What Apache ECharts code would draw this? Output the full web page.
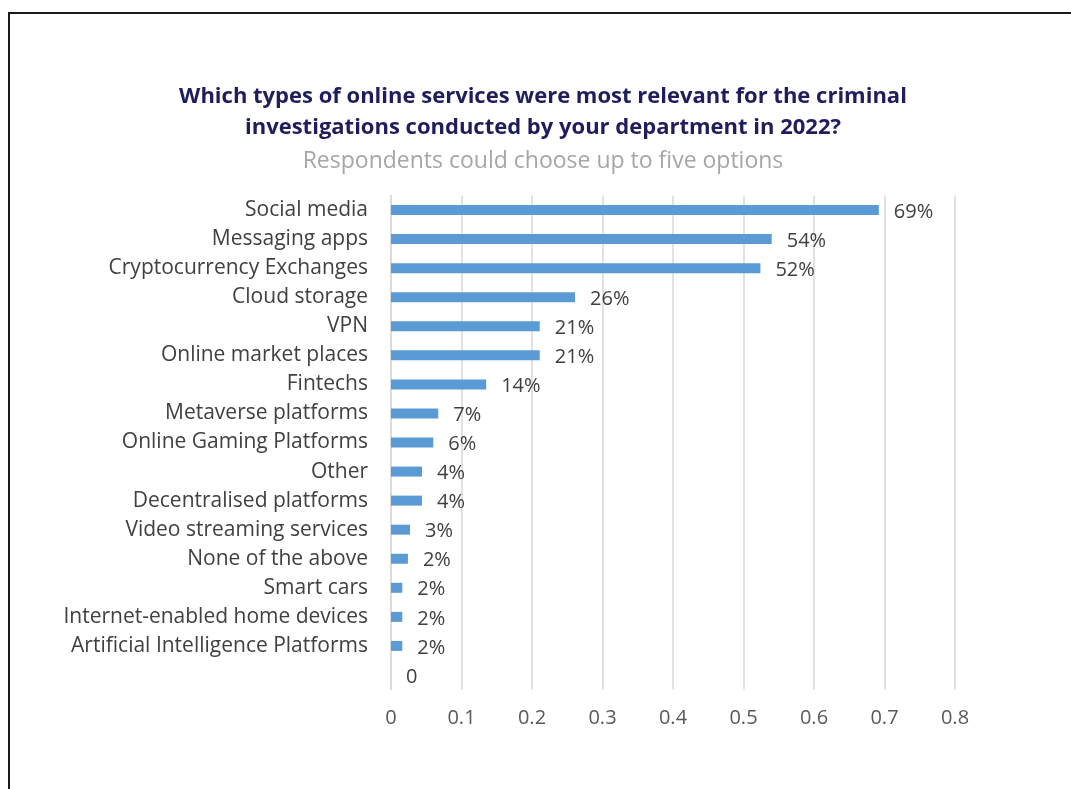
<!DOCTYPE html>
<html>
<head>
<meta charset="utf-8">
<script src="https://cdn.jsdelivr.net/npm/echarts@6/dist/echarts.min.js"></script>
<style>
  html, body { margin: 0; padding: 0; background: #ffffff; }
  #chart { width: 1071px; height: 789px; }
</style>
</head>
<body>
<div id="chart"></div>
<script>
// Survey answers, top to bottom; the blank last row is the empty zero entry
const categories = [
  'Social media', 'Messaging apps', 'Cryptocurrency Exchanges', 'Cloud storage',
  'VPN', 'Online market places', 'Fintechs', 'Metaverse platforms',
  'Online Gaming Platforms', 'Other', 'Decentralised platforms',
  'Video streaming services', 'None of the above', 'Smart cars',
  'Internet-enabled home devices', 'Artificial Intelligence Platforms', ''
];
const shares = [
  0.692, 0.540, 0.524, 0.261,
  0.211, 0.211, 0.135, 0.067,
  0.060, 0.044, 0.044,
  0.027, 0.024, 0.016,
  0.016, 0.016, 0
];
const xTicks = [0, 0.1, 0.2, 0.3, 0.4, 0.5, 0.6, 0.7, 0.8];

const titleLines = [
  'Which types of online services were most relevant for the criminal',
  'investigations conducted by your department in 2022?'
];
const subtitle = 'Respondents could choose up to five options';

const FONT = '"Open Sans", Lato, sans-serif';

const chart = echarts.init(document.getElementById('chart'));
chart.setOption({
  backgroundColor: '#ffffff',
  animation: false,
  graphic: [
    { type: 'line', shape: { x1: 8, y1: 13, x2: 1071, y2: 13 }, style: { stroke: '#1a1a1a', lineWidth: 2 } },
    { type: 'line', shape: { x1: 9, y1: 12, x2: 9, y2: 789 }, style: { stroke: '#1a1a1a', lineWidth: 2 } },
    { type: 'text', x: 543, y: 97, style: { text: titleLines[0], textAlign: 'center', textVerticalAlign: 'middle', fill: '#1f1d5c', font: 'bold 22px ' + FONT } },
    { type: 'text', x: 543, y: 128, style: { text: titleLines[1], textAlign: 'center', textVerticalAlign: 'middle', fill: '#1f1d5c', font: 'bold 22px ' + FONT } },
    { type: 'text', x: 543, y: 161, style: { text: subtitle, textAlign: 'center', textVerticalAlign: 'middle', fill: '#a6a6a6', font: '23px ' + FONT } }
  ],
  grid: { left: 391, right: 116, top: 195.5, bottom: 99.5, containLabel: false },
  xAxis: {
    type: 'value',
    min: xTicks[0],
    max: xTicks[xTicks.length - 1],
    interval: 0.1,
    axisLine: { show: false },
    axisTick: { show: false },
    splitLine: { show: true, lineStyle: { color: '#d9d9d9', width: 1.5 } },
    axisLabel: {
      margin: 19,
      color: '#595959',
      fontFamily: FONT,
      fontSize: 20,
      formatter: v => String(Math.round(v * 10) / 10)
    }
  },
  yAxis: {
    type: 'category',
    inverse: true,
    data: categories,
    axisLine: { show: true, lineStyle: { color: '#d9d9d9', width: 1.5 } },
    axisTick: { show: false },
    axisLabel: { margin: 23, color: '#404040', fontFamily: FONT, fontSize: 21, padding: [3, 0, 0, 0] }
  },
  series: [{
    type: 'bar',
    data: shares,
    barWidth: 10,
    itemStyle: { color: '#5b9bd5' },
    label: {
      show: true,
      position: 'right',
      distance: 15,
      offset: [0, 2],
      color: '#404040',
      fontFamily: FONT,
      fontSize: 20,
      formatter: p => p.value === 0 ? '0' : Math.round(p.value * 100) + '%'
    }
  }]
});
</script>
</body>
</html>
